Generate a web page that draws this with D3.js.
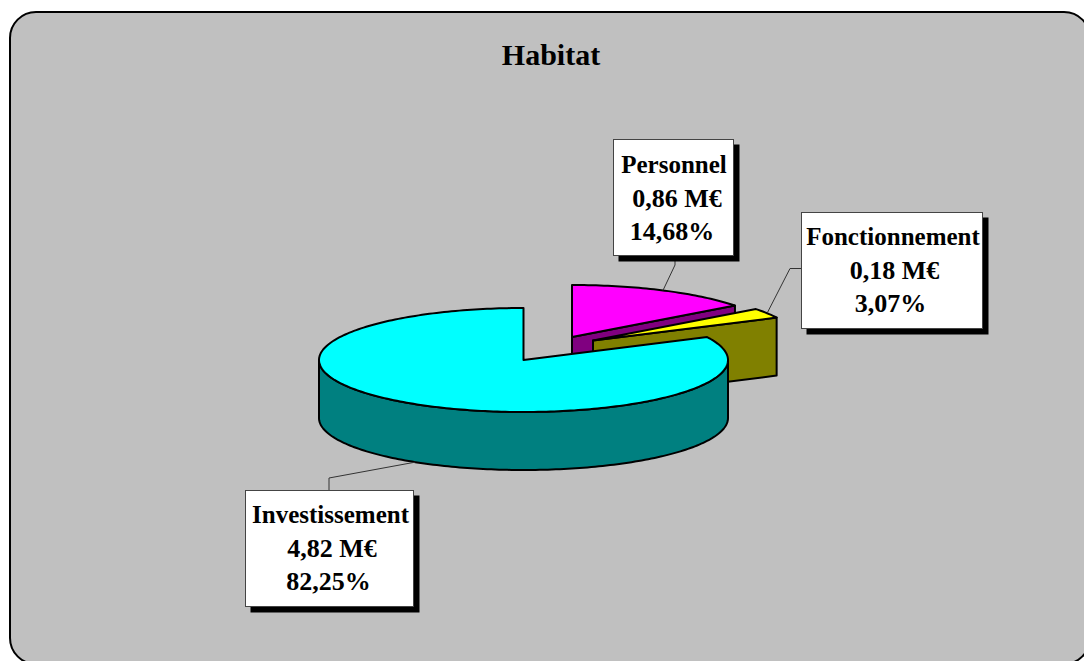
<!DOCTYPE html>
<html>
<head>
<meta charset="utf-8">
<title>Habitat</title>
<script src="https://cdn.jsdelivr.net/npm/d3@7"></script>
<style>
  html, body { margin: 0; padding: 0; background: #fff; overflow: hidden; }
  text { font-family: "Liberation Serif", serif; font-weight: bold; fill: #000; }
</style>
</head>
<body>
<div id="chart"></div>
<script>
// data
const categories = ["Personnel", "Fonctionnement", "Investissement"];
const amounts = [0.86, 0.18, 4.82];
const amountLabels = ["0,86 M€", "0,18 M€", "4,82 M€"];
const percentLabels = ["14,68%", "3,07%", "82,25%"];
const chartTitle = "Habitat";

const topColors = ["#ff00ff", "#ffff00", "#00ffff"];
const sideColors = ["#800080", "#808000", "#008080"];

const width = 1084, height = 661;

// pie geometry
const cx = 523.5, cy = 360, rx = 204.5, ry = 52, depth = 58;
// how far each slice is pulled out of the pie
const offsets = [[48.5, -23], [69.5, -19.5], [0, 0]];

// label boxes, one per slice
const boxes = [
    { x: 613, y: 139, w: 120, h: 116, base: 173, dx: [1, 4, -1] },
    { x: 801, y: 212, w: 181, h: 116, base: 245, dx: [1.5, 3, -1] },
    { x: 245, y: 490, w: 168, h: 116, base: 523, dx: [1.5, 3, -0.5] }
];
const lineGap = 33.5;

// leader line elbow, from box edge to the bend
const elbows = [
    [[675, 255], [675, 265]],
    [[801, 268.5], [790, 268.5]],
    [[329, 490], [329, 478]]
];

const svg = d3.select("#chart").append("svg")
    .attr("width", width)
    .attr("height", height)
    .style("display", "block");

// Rounded frame, runs off the right and bottom of the page
svg.append("rect")
    .attr("x", 10)
    .attr("y", 12)
    .attr("width", 1080)
    .attr("height", 652)
    .attr("rx", 26)
    .attr("fill", "#c0c0c0")
    .attr("stroke", "#000")
    .attr("stroke-width", 2);

svg.append("text")
    .attr("x", 551)
    .attr("y", 65)
    .attr("text-anchor", "middle")
    .style("font-size", "30px")
    .text(chartTitle);

const slices = d3.pie().sort(null).startAngle(0).endAngle(2 * Math.PI)(amounts);

// x/y of an angle on the flat ellipse (0 = top, clockwise)
const xScale = d3.scaleLinear().domain([-1, 1]).range([-rx, rx]);
const yScale = d3.scaleLinear().domain([-1, 1]).range([ry, -ry]);
function project(angle, i, drop) {
    return [
        cx + offsets[i][0] + xScale(Math.sin(angle)),
        cy + offsets[i][1] + yScale(Math.cos(angle)) + (drop || 0)
    ];
}
function arcPoints(a0, a1, i, drop) {
    const n = Math.max(2, Math.ceil((a1 - a0) / 0.02));
    return d3.range(n + 1).map(k => project(a0 + (a1 - a0) * k / n, i, drop));
}

const line = d3.line();
const pieG = svg.append("g")
    .attr("stroke", "#000")
    .attr("stroke-width", 2)
    .attr("stroke-linejoin", "round");

slices.forEach((d, i) => {
    const apex = [cx + offsets[i][0], cy + offsets[i][1]];

    // outer wall, only the front half of the ellipse shows
    const w0 = Math.max(d.startAngle, Math.PI / 2);
    const w1 = Math.min(d.endAngle, 3 * Math.PI / 2);
    if (w1 > w0) {
        const wall = arcPoints(w0, w1, i, 0).concat(arcPoints(w0, w1, i, depth).reverse());
        pieG.append("path")
            .attr("d", line(wall) + "Z")
            .attr("fill", sideColors[i]);
    }

    // cut face on the clockwise side
    if (d.endAngle < Math.PI) {
        const rim = project(d.endAngle, i, 0);
        const face = [apex, rim, [rim[0], rim[1] + depth], [apex[0], apex[1] + depth]];
        pieG.append("path")
            .attr("d", line(face) + "Z")
            .attr("fill", sideColors[i]);
    }

    // top of the slice
    const top = [apex].concat(arcPoints(d.startAngle, d.endAngle, i, 0));
    pieG.append("path")
        .attr("d", line(top) + "Z")
        .attr("fill", topColors[i]);
});

// Labels with drop shadow and leader line
categories.forEach((name, i) => {
    const b = boxes[i];
    const d = slices[i];
    const mid = (d.startAngle + d.endAngle) / 2;
    // the big slice's leader lands on the wall, below the rim
    const end = project(mid, i, mid > Math.PI / 2 && mid < 3 * Math.PI / 2 ? depth : 0);

    svg.append("path")
        .attr("d", line(elbows[i].concat([end])))
        .attr("fill", "none")
        .attr("stroke", "#333")
        .attr("stroke-width", 1);

    svg.append("rect")
        .attr("x", b.x + 5.5)
        .attr("y", b.y + 5.5)
        .attr("width", b.w + 1)
        .attr("height", b.h + 1)
        .attr("fill", "#000");

    svg.append("rect")
        .attr("x", b.x + 0.5)
        .attr("y", b.y + 0.5)
        .attr("width", b.w)
        .attr("height", b.h)
        .attr("fill", "#fff")
        .attr("stroke", "#444")
        .attr("stroke-width", 1);

    [name, amountLabels[i], percentLabels[i]].forEach((txt, k) => {
        svg.append("text")
            .attr("x", b.x + b.w / 2 + b.dx[k])
            .attr("y", b.base + k * lineGap)
            .attr("text-anchor", "middle")
            .style("font-size", k === 0 ? "25px" : "26px")
            .text(txt);
    });
});
</script>
</body>
</html>
